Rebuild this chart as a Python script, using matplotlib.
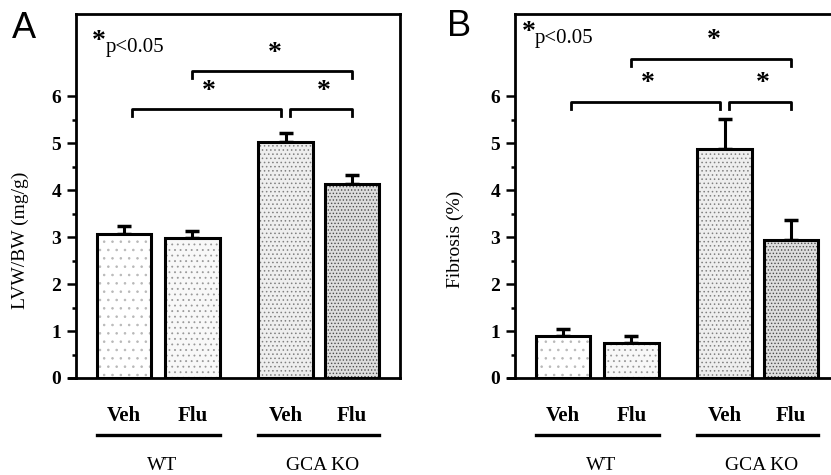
import numpy as np
import matplotlib
matplotlib.use("Agg")
import matplotlib.pyplot as plt

# data
groups = ["WT", "GCA KO"]
treatments = ["Veh", "Flu", "Veh", "Flu"]
lvw_mean = [3.06, 2.98, 5.02, 4.12]
lvw_err = [0.17, 0.15, 0.20, 0.20]
fib_mean = [0.89, 0.74, 4.88, 2.93]
fib_err = [0.15, 0.15, 0.64, 0.43]

# significance brackets: (bar i, bar j, height)
lvw_brackets = [(0, 2, 5.72), (2, 3, 5.72), (1, 3, 6.53)]
fib_brackets = [(0, 2, 5.88), (2, 3, 5.88), (1, 3, 6.80)]

xpos = np.array([0, 1, 2.36, 3.33])
width = 0.8
faces = ["white", "#f8f8f8", "#eeeeee", "#dddddd"]
hatches = ["..", "...", "....", "....."]
hatch_cols = ["0.72", "0.6", "0.5", "0.3"]

serif = "Liberation Serif"
plt.rcParams["hatch.linewidth"] = 0.6

fig = plt.figure(figsize=(8.31, 4.75), dpi=100)
axA = fig.add_axes([76 / 831, 1 - 378 / 475, 324 / 831, 364 / 475])
axB = fig.add_axes([515 / 831, 1 - 378 / 475, 324 / 831, 364 / 475])


def draw_panel(ax, means, errs, brackets, ptxt_xy):
    ax.bar(xpos, means, width, color=faces, edgecolor="black", linewidth=2, zorder=2)
    for x, m, h, hc in zip(xpos, means, hatches, hatch_cols):
        ax.bar(x, m, width, fill=False, edgecolor=hc, linewidth=0, hatch=h, zorder=2.5)
    ax.bar(xpos, means, width, fill=False, edgecolor="black", linewidth=2.2, zorder=3)
    ax.errorbar(xpos, means, yerr=[np.zeros(len(errs)), errs], fmt="none",
                ecolor="black", elinewidth=2.2, capsize=5, capthick=2.5, zorder=1)

    ax.set_xlim(-0.70, 4.03)
    ax.set_ylim(0, 7.75)
    ax.set_yticks(range(7))
    ax.set_yticks(np.arange(0.5, 6.0, 1.0), minor=True)
    ax.tick_params(axis="y", which="major", length=6.5, width=1.8, direction="out", pad=4)
    ax.tick_params(axis="y", which="minor", length=3, width=1.8, direction="out")
    for lab in ax.get_yticklabels():
        lab.set_fontfamily(serif)
        lab.set_fontweight("bold")
        lab.set_fontsize(14)

    ax.set_xticks(xpos)
    ax.set_xticklabels(treatments, fontfamily=serif, fontweight="bold", fontsize=15)
    ax.tick_params(axis="x", length=0, pad=20)

    for s in ax.spines.values():
        s.set_linewidth(2)

    # bottom axis line pokes out a little to the left
    tr = ax.get_xaxis_transform()
    ax.plot([-0.80, -0.70], [0, 0], color="black", lw=2, transform=tr, clip_on=False)

    # group underlines and names
    for k, g in enumerate(groups):
        x0 = xpos[2 * k] - width / 2
        x1 = xpos[2 * k + 1] + width / 2
        ax.plot([x0, x1], [-0.157, -0.157], color="black", lw=2.4,
                transform=tr, clip_on=False)
        ax.text((x0 + x1) / 2 + 0.05, -0.24, g, transform=tr, ha="center", va="center",
                fontfamily=serif, fontsize=14)

    # brackets
    for i, j, h in brackets:
        xa = xpos[i]
        xb = xpos[j]
        if i == 0:
            xa = xpos[i] + 0.12
            xb = xpos[j] - 0.07
        if i == 2:
            xa = xpos[i] + 0.07
        ax.plot([xa, xa, xb, xb], [h - 0.15, h, h, h - 0.15], color="black",
                lw=2, zorder=4)
        ax.text((xa + xb) / 2 + 0.04, h + 0.12, "*", ha="center", va="bottom",
                fontfamily=serif, fontweight="bold", fontsize=20)

    ax.text(ptxt_xy[0], ptxt_xy[1], "*", transform=ax.transAxes, ha="left", va="center",
            fontfamily=serif, fontweight="bold", fontsize=20)
    ax.text(ptxt_xy[0] + 0.042, ptxt_xy[1] - 0.016, "p<0.05", transform=ax.transAxes,
            ha="left", va="center", fontfamily=serif, fontsize=15)


draw_panel(axA, lvw_mean, lvw_err, lvw_brackets, (0.05, 0.925))
draw_panel(axB, fib_mean, fib_err, fib_brackets, (0.02, 0.95))
axB.spines["right"].set_visible(False)

fig.text(20 / 831, 0.495, "LVW/BW (mg/g)", rotation=90, ha="center", va="center",
         fontfamily=serif, fontsize=14)
fig.text(455 / 831, 0.495, "Fibrosis (%)", rotation=90, ha="center", va="center",
         fontfamily=serif, fontsize=14)
fig.text(12 / 831, 1 - 28 / 475, "A", ha="left", va="center",
         fontfamily="Liberation Sans", fontsize=26)
fig.text(447 / 831, 1 - 27 / 475, "B", ha="left", va="center",
         fontfamily="Liberation Sans", fontsize=26)

fig.savefig("out.png", dpi=100)
